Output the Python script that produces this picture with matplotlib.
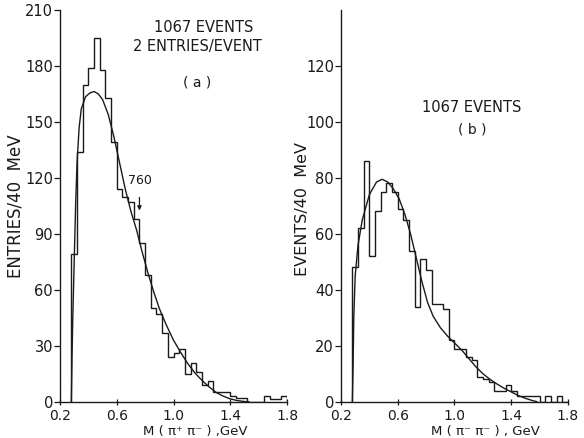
import numpy as np
import matplotlib
matplotlib.use("Agg")
import matplotlib.pyplot as plt

# ---- data ----
bin_start = 0.28
bin_width = 0.04

counts_a = [79, 134, 170, 179, 195, 178, 163, 139, 114, 110, 107, 98, 85, 68, 50, 47,
            37, 24, 26, 28, 15, 21, 16, 9, 11, 5, 5, 5, 3, 2, 2, 0, 0, 0, 3, 1.5, 1.5, 3]
counts_b = [48, 62, 86, 52, 68, 75, 78, 75, 69, 65, 54, 34, 51, 47, 35, 35, 33, 22,
            19, 19, 16, 15, 9, 8, 7, 4, 4, 6, 4, 2, 2, 2, 2, 0, 2, 0, 2, 0]

fit_a_x = [0.28, 0.285, 0.29, 0.30, 0.31, 0.32, 0.335, 0.35, 0.38, 0.41, 0.44, 0.47, 0.50,
           0.54, 0.58, 0.62, 0.66, 0.70, 0.74, 0.78, 0.82, 0.86, 0.90, 0.95, 1.00, 1.05,
           1.10, 1.15, 1.20, 1.25, 1.30, 1.35, 1.40, 1.45, 1.50, 1.53]
fit_a_y = [0, 25, 45, 75, 105, 128, 147, 157, 163.5, 165.5, 166.3, 165, 162,
           154, 142, 128, 114, 102, 92, 80, 69, 59, 50, 41, 33, 26.5,
           20.5, 15.5, 11.5, 8, 5, 3, 1.5, 0.6, 0.1, 0]

fit_b_x = [0.28, 0.285, 0.29, 0.30, 0.32, 0.35, 0.40, 0.45, 0.49, 0.53, 0.57, 0.61, 0.65,
           0.69, 0.73, 0.77, 0.81, 0.85, 0.90, 0.95, 1.00, 1.05, 1.10, 1.15, 1.20, 1.25,
           1.30, 1.35, 1.40, 1.45, 1.50, 1.55, 1.58]
fit_b_y = [0, 12, 30, 45, 56, 65, 74, 78.5, 79.5, 78.5, 76, 72.5, 67,
           60, 51.5, 43, 35.5, 30.5, 26.5, 23.5, 21, 18.5, 15.5, 12.5, 10, 8,
           6.3, 4.8, 3.5, 2.2, 1.2, 0.4, 0]

xticks = [0.2, 0.6, 1.0, 1.4, 1.8]
xtick_labels = ["0.2", "0.6", "1.0", "1.4", "1.8"]
yticks_a = [0, 30, 60, 90, 120, 150, 180, 210]
yticks_b = [0, 20, 40, 60, 80, 100, 120]

# ---- figure ----
W, H = 584, 438
fig = plt.figure(figsize=(W / 100, H / 100), dpi=100)
ink = "#1a1a1a"
plt.rcParams["font.family"] = ["DejaVu Sans"]

def px_axes(left, top, right, bottom):
    return fig.add_axes([left / W, 1 - bottom / H, (right - left) / W, (bottom - top) / H])

ax_a = px_axes(60, 10, 287, 401.7)
ax_b = px_axes(341, 10, 568, 401.7)

def style(ax, counts, fx, fy, ymax, yticks):
    edges = bin_start + bin_width * np.arange(len(counts) + 1)
    ax.stairs(counts, edges, baseline=0, color=ink, lw=1.0)
    ax.plot(fx, fy, color=ink, lw=1.0)
    ax.set_xlim(0.2, 1.8)
    ax.set_ylim(0, ymax)
    ax.set_xticks(xticks)
    ax.set_xticklabels(xtick_labels)
    ax.set_yticks(yticks)
    for s in ["top", "right"]:
        ax.spines[s].set_visible(False)
    for s in ["left", "bottom"]:
        ax.spines[s].set_color(ink)
        ax.spines[s].set_linewidth(1.0)
    ax.tick_params(axis="y", direction="out", length=4, width=0.9, colors=ink,
                   labelsize=10.5, pad=1)
    ax.tick_params(axis="x", direction="inout", length=5, width=0.9, colors=ink,
                   labelsize=10, pad=3)

style(ax_a, counts_a, fit_a_x, fit_a_y, 210, yticks_a)
style(ax_b, counts_b, fit_b_x, fit_b_y, 140, yticks_b)

def ftext(x, y, s, **kw):
    fig.text(x / W, 1 - y / H, s, ha="center", va="center", color=ink, **kw)

ftext(204, 27, "1067 EVENTS", fontsize=10.5)
ftext(197, 46, "2 ENTRIES/EVENT", fontsize=10.5)
ftext(197, 83, "( a )", fontsize=10)
ftext(472, 108, "1067 EVENTS", fontsize=10.5)
ftext(472, 130, "( b )", fontsize=10)

ftext(140, 181, "760", fontsize=9)
ax_a.annotate("", xy=(0.76, 101), xytext=(0.76, 111),
              arrowprops=dict(arrowstyle="-|>", color=ink, lw=0.9, mutation_scale=6))

ftext(16, 206, "ENTRIES/40  MeV", fontsize=12, rotation=90)
ftext(302, 209, "EVENTS/40  MeV", fontsize=11.5, rotation=90)
ftext(195, 431.5, "M ( π⁺ π⁻ ) ,GeV", fontsize=9.5)
ftext(485, 431.5, "M ( π⁻ π⁻ ) , GeV", fontsize=9.5)

fig.savefig("out.png", dpi=100, facecolor="white")
